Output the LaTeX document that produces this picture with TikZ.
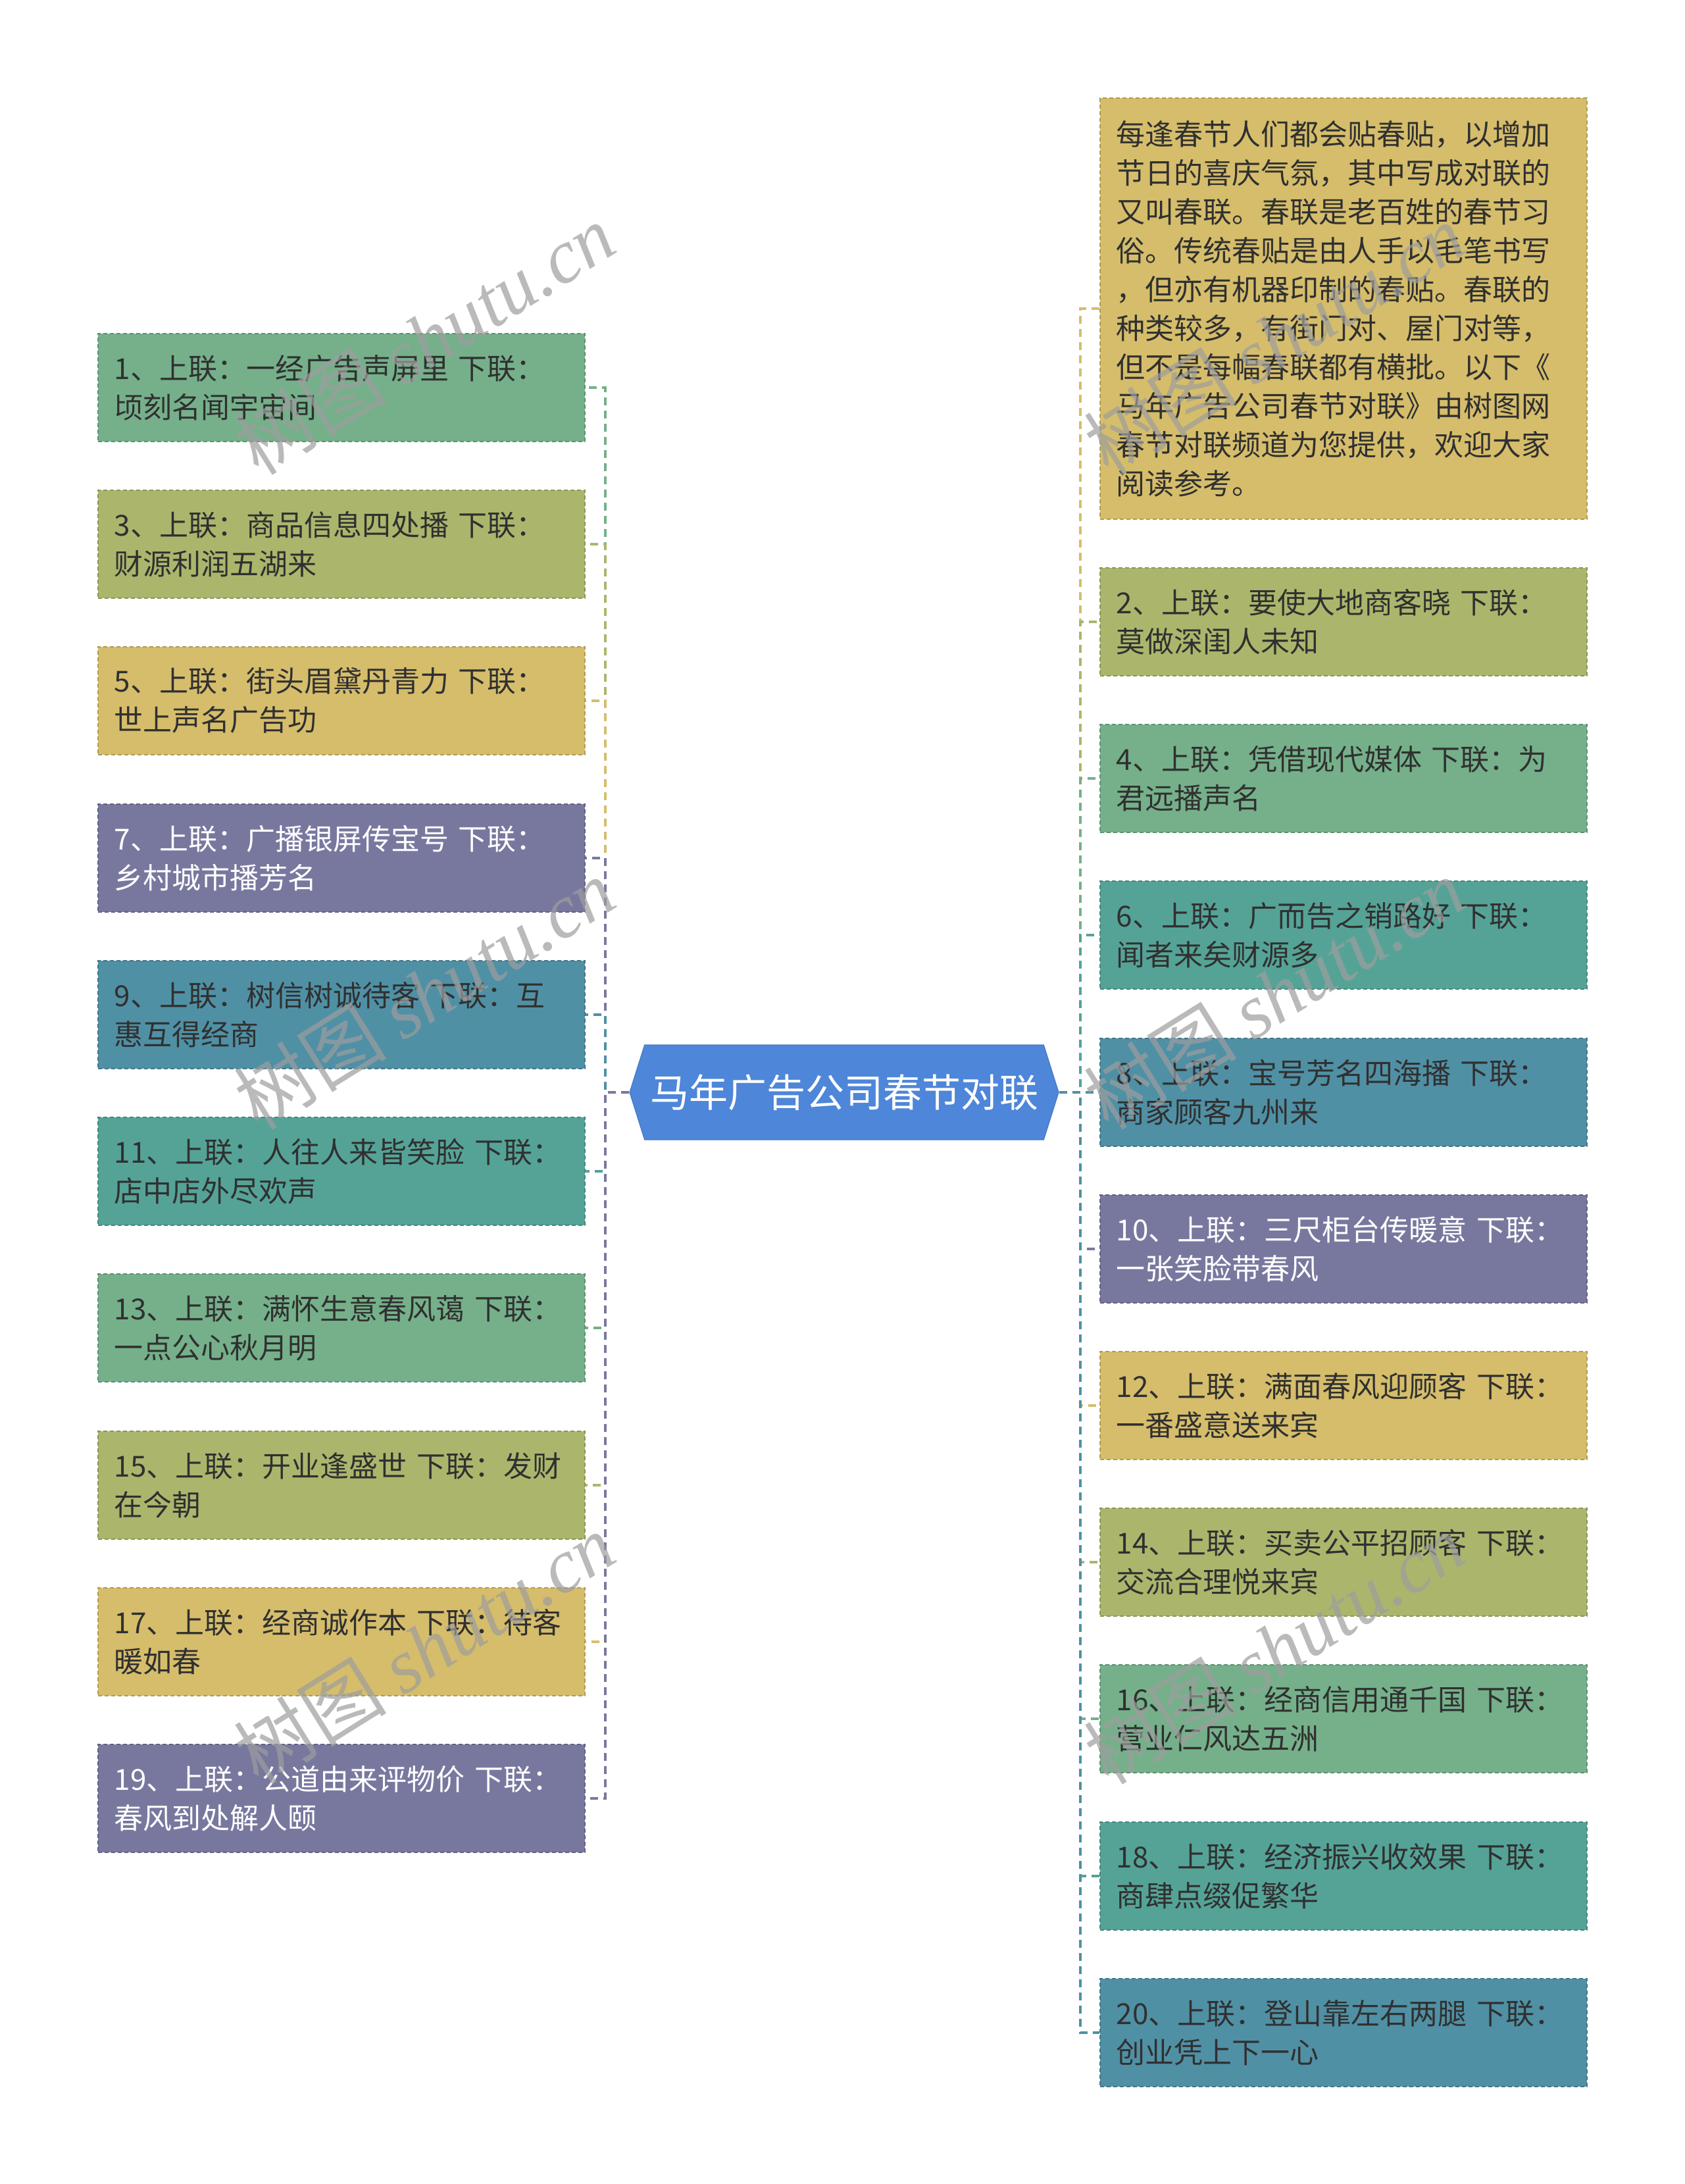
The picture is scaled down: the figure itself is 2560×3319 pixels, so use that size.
\documentclass[tikz,border=0pt]{standalone}
\usepackage{fontspec}
\setmainfont{Noto Sans CJK SC}
\newfontfamily\wmlat{Liberation Serif}
\usetikzlibrary{shapes.symbols}
\definecolor{cgreen}{HTML}{75B08A}
\definecolor{colive}{HTML}{ABB66C}
\definecolor{cyellow}{HTML}{D5BD6B}
\definecolor{cpurple}{HTML}{78789F}
\definecolor{cblue}{HTML}{5090A5}
\definecolor{cteal}{HTML}{55A397}
\definecolor{ccenter}{HTML}{4E86D9}
\definecolor{txt}{HTML}{303030}
\begin{document}
\begin{tikzpicture}[x=0.5pt,y=-0.5pt,
  box/.style={anchor=north west, rectangle, draw=#1!82!black, fill=#1,
    dash pattern=on 3pt off 2pt, line width=0.9pt,
    text width=345pt, inner xsep=12.5pt, inner ysep=0pt,
    minimum height=82pt, align=left, text=txt,
    font=\fontsize{22}{29.5}\selectfont},
  wbox/.style={box=#1, text=white},
  conn/.style={draw=#1, line width=2pt, dash pattern=on 6pt off 4pt},
  wm/.style={text=black!38, opacity=0.7, rotate=32, inner sep=0pt,
    font=\fontsize{58}{58}\selectfont}
]
\path[fill=white, use as bounding box] (0,0) rectangle (2560,3319);

% centre
\node[signal, signal to=west and east, signal pointer angle=145,
  fill=ccenter, draw=ccenter!90!black, line width=0.6pt,
  minimum width=326pt, minimum height=72pt, inner sep=0pt,
  text=white, font=\fontsize{29.5}{30}\selectfont] (c) at (1283,1660) {马年广告公司春节对联};

% left column
\node[box=cgreen]  (l1)  at (148,506)  {1、上联：一经广告声屏里~下联：\\顷刻名闻宇宙间};
\node[box=colive]  (l3)  at (148,744)  {3、上联：商品信息四处播~下联：\\财源利润五湖来};
\node[box=cyellow] (l5)  at (148,982)  {5、上联：街头眉黛丹青力~下联：\\世上声名广告功};
\node[wbox=cpurple] (l7) at (148,1221) {7、上联：广播银屏传宝号~下联：\\乡村城市播芳名};
\node[box=cblue]   (l9)  at (148,1459) {9、上联：树信树诚待客~下联：互\\惠互得经商};
\node[box=cteal]   (l11) at (148,1697) {11、上联：人往人来皆笑脸~下联：\\店中店外尽欢声};
\node[box=cgreen]  (l13) at (148,1935) {13、上联：满怀生意春风蔼~下联：\\一点公心秋月明};
\node[box=colive]  (l15) at (148,2174) {15、上联：开业逢盛世~下联：发财\\在今朝};
\node[box=cyellow] (l17) at (148,2412) {17、上联：经商诚作本~下联：待客\\暖如春};
\node[wbox=cpurple] (l19) at (148,2650) {19、上联：公道由来评物价~下联：\\春风到处解人颐};

% right column
\node[box=cyellow, minimum height=320pt] (intro) at (1671,148) {每逢春节人们都会贴春贴，以增加\\节日的喜庆气氛，其中写成对联的\\又叫春联。春联是老百姓的春节习\\俗。传统春贴是由人手以毛笔书写\\，但亦有机器印制的春贴。春联的\\种类较多，有街门对、屋门对等，\\但不是每幅春联都有横批。以下《\\马年广告公司春节对联》由树图网\\春节对联频道为您提供，欢迎大家\\阅读参考。};
\node[box=colive]  (r2)  at (1671,862)  {2、上联：要使大地商客晓~下联：\\莫做深闺人未知};
\node[box=cgreen]  (r4)  at (1671,1100) {4、上联：凭借现代媒体~下联：为\\君远播声名};
\node[box=cteal]   (r6)  at (1671,1338) {6、上联：广而告之销路好~下联：\\闻者来矣财源多};
\node[box=cblue]   (r8)  at (1671,1577) {8、上联：宝号芳名四海播~下联：\\商家顾客九州来};
\node[wbox=cpurple] (r10) at (1671,1815) {10、上联：三尺柜台传暖意~下联：\\一张笑脸带春风};
\node[box=cyellow] (r12) at (1671,2053) {12、上联：满面春风迎顾客~下联：\\一番盛意送来宾};
\node[box=colive]  (r14) at (1671,2291) {14、上联：买卖公平招顾客~下联：\\交流合理悦来宾};
\node[box=cgreen]  (r16) at (1671,2529) {16、上联：经商信用通千国~下联：\\营业仁风达五洲};
\node[box=cteal]   (r18) at (1671,2768) {18、上联：经济振兴收效果~下联：\\商肆点缀促繁华};
\node[box=cblue]   (r20) at (1671,3006) {20、上联：登山靠左右两腿~下联：\\创业凭上下一心};

% connectors left
\draw[conn=cgreen]  (c.west) -- ++(-36,0) |- (l1.east);
\draw[conn=colive]  (c.west) -- ++(-36,0) |- (l3.east);
\draw[conn=cyellow] (c.west) -- ++(-36,0) |- (l5.east);
\draw[conn=cpurple] (c.west) -- ++(-36,0) |- (l7.east);
\draw[conn=cblue]   (c.west) -- ++(-36,0) |- (l9.east);
\draw[conn=cteal]   (c.west) -- ++(-36,0) |- (l11.east);
\draw[conn=cgreen]  (c.west) -- ++(-36,0) |- (l13.east);
\draw[conn=colive]  (c.west) -- ++(-36,0) |- (l15.east);
\draw[conn=cyellow] (c.west) -- ++(-36,0) |- (l17.east);
\draw[conn=cpurple] (c.west) -- ++(-36,0) |- (l19.east);
% connectors right
\draw[conn=cyellow] (c.east) -- ++(32,0) |- (intro.west);
\draw[conn=colive]  (c.east) -- ++(32,0) |- (r2.west);
\draw[conn=cgreen]  (c.east) -- ++(32,0) |- (r4.west);
\draw[conn=cteal]   (c.east) -- ++(32,0) |- (r6.west);
\draw[conn=cblue]   (c.east) -- ++(32,0) |- (r8.west);
\draw[conn=cpurple] (c.east) -- ++(32,0) |- (r10.west);
\draw[conn=cyellow] (c.east) -- ++(32,0) |- (r12.west);
\draw[conn=colive]  (c.east) -- ++(32,0) |- (r14.west);
\draw[conn=cgreen]  (c.east) -- ++(32,0) |- (r16.west);
\draw[conn=cteal]   (c.east) -- ++(32,0) |- (r18.west);
\draw[conn=cblue]   (c.east) -- ++(32,0) |- (r20.west);

% watermarks
\node[wm] (wm1) at (645,515)  {树图 {\wmlat\itshape shutu.cn}};
\node[wm] (wm2) at (645,1510) {树图 {\wmlat\itshape shutu.cn}};
\node[wm] (wm3) at (645,2505) {树图 {\wmlat\itshape shutu.cn}};
\node[wm] (wm4) at (1937,515)  {树图 {\wmlat\itshape shutu.cn}};
\node[wm] (wm5) at (1937,1510) {树图 {\wmlat\itshape shutu.cn}};
\node[wm] (wm6) at (1937,2505) {树图 {\wmlat\itshape shutu.cn}};
\end{tikzpicture}
\end{document}
